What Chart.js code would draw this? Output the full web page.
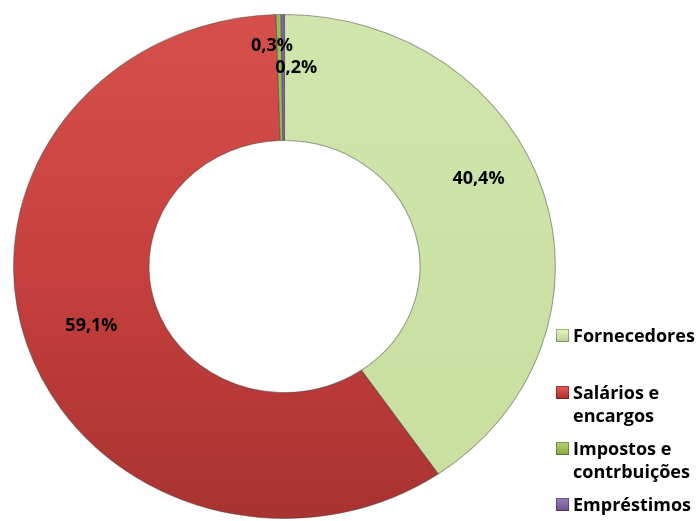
<!DOCTYPE html>
<html>
<head>
<meta charset="utf-8">
<script src="https://cdn.jsdelivr.net/npm/chart.js@4.4.1/dist/chart.umd.min.js"></script>
<style>
  html, body { margin: 0; padding: 0; background: #ffffff; }
  #wrap { width: 698px; height: 521px; position: relative; }
</style>
</head>
<body>
<div id="wrap"><canvas id="c" width="698" height="521"></canvas></div>
<script>
// ---- data ----
const categories = ['Fornecedores', 'Salários e encargos', 'Impostos e contrbuições', 'Empréstimos'];
const shares = [40.4, 59.1, 0.3, 0.2];

// ---- style ----
const sliceColors = ['#CDE3A6', '#C6403E', '#9BBB59', '#8064A2'];
const FONT = 'bold 18px "Open Sans", Lato, sans-serif';
const ELLIPSE_X = 1.075;                 // horizontal stretch of the ring
const labelShift = [[0, -31], [0, 0], [-8, -32], [13, -10]];
const legendStyle = { box: 13, boxX: 556, textX: 573, maxW: 132, lineH: 23, firstBaselines: [342, 399, 455, 511] };

function fmt(v) { return v.toFixed(1).replace('.', ',') + '%'; }

const ellipsePlugin = {
  id: 'ellipse',
  beforeDatasetsDraw(chart) {
    const arc = chart.getDatasetMeta(0).data[0];
    const ctx = chart.ctx;
    ctx.save();
    ctx.translate(arc.x, arc.y);
    ctx.scale(ELLIPSE_X, 1);
    ctx.translate(-arc.x, -arc.y);
  },
  afterDatasetsDraw(chart) {
    chart.ctx.restore();
  }
};

const labelPlugin = {
  id: 'sliceLabels',
  afterDatasetsDraw(chart) {
    const ctx = chart.ctx;
    const meta = chart.getDatasetMeta(0);
    ctx.save();
    ctx.font = FONT;
    ctx.fillStyle = '#000000';
    ctx.textAlign = 'center';
    ctx.textBaseline = 'middle';
    meta.data.forEach((arc, i) => {
      const p = arc.getProps(['x', 'y', 'startAngle', 'endAngle', 'innerRadius', 'outerRadius'], true);
      const mid = (p.startAngle + p.endAngle) / 2;
      const r = (p.innerRadius + p.outerRadius) / 2;
      const x = p.x + Math.cos(mid) * r * ELLIPSE_X + labelShift[i][0];
      const y = p.y + Math.sin(mid) * r + labelShift[i][1];
      ctx.fillText(fmt(chart.data.datasets[0].data[i]), x, y);
    });
    ctx.restore();
  }
};

function wrapText(ctx, text, maxW) {
  const words = text.split(' ');
  const lines = [];
  let cur = '';
  words.forEach(w => {
    const t = cur ? cur + ' ' + w : w;
    if (cur && ctx.measureText(t).width > maxW) { lines.push(cur); cur = w; }
    else cur = t;
  });
  if (cur) lines.push(cur);
  return lines;
}

const legendPlugin = {
  id: 'sideLegend',
  afterDraw(chart) {
    const ctx = chart.ctx;
    const s = legendStyle;
    ctx.save();
    ctx.font = FONT;
    ctx.textAlign = 'left';
    ctx.textBaseline = 'alphabetic';
    chart.data.labels.forEach((lab, i) => {
      const base = s.firstBaselines[i];
      const col = sliceColors[i];
      const g = ctx.createLinearGradient(0, base - 14, 0, base);
      g.addColorStop(0, shade(col, 30));
      g.addColorStop(1, shade(col, -20));
      ctx.fillStyle = g;
      ctx.fillRect(s.boxX, base - 13, s.box, s.box);
      ctx.strokeStyle = 'rgba(0,0,0,0.3)';
      ctx.lineWidth = 1;
      ctx.strokeRect(s.boxX + 0.5, base - 12.5, s.box - 1, s.box - 1);
      ctx.fillStyle = '#000000';
      wrapText(ctx, lab, s.maxW).forEach((ln, k) => ctx.fillText(ln, s.textX, base + k * s.lineH));
    });
    ctx.restore();
  }
};

function shade(hex, amt) {
  const n = parseInt(hex.slice(1), 16);
  const c = v => Math.max(0, Math.min(255, v + amt));
  const r = c(n >> 16), g = c((n >> 8) & 255), b = c(n & 255);
  return 'rgb(' + r + ',' + g + ',' + b + ')';
}

function sliceFill(context) {
  const i = context.dataIndex;
  const chart = context.chart;
  const area = chart.chartArea;
  if (!area) return sliceColors[i];
  const g = chart.ctx.createLinearGradient(0, area.top, 0, area.bottom);
  if (i === 1) {
    g.addColorStop(0, '#D6504B');
    g.addColorStop(0.5, '#C6403E');
    g.addColorStop(1, '#A83331');
  } else if (i === 0) {
    g.addColorStop(0, '#D0E5AB');
    g.addColorStop(1, '#C8DF9F');
  } else {
    g.addColorStop(0, sliceColors[i]);
    g.addColorStop(1, sliceColors[i]);
  }
  return g;
}

new Chart(document.getElementById('c'), {
  type: 'doughnut',
  data: {
    labels: categories,
    datasets: [{
      data: shares,
      backgroundColor: sliceFill,
      borderColor: 'rgba(70,70,70,0.5)',
      borderWidth: 1
    }]
  },
  options: {
    responsive: false,
    animation: false,
    cutout: '50%',
    layout: { padding: { left: 32, top: 14, right: 161, bottom: 2 } },
    plugins: { legend: { display: false }, tooltip: { enabled: false } }
  },
  plugins: [ellipsePlugin, labelPlugin, legendPlugin]
});
</script>
</body>
</html>
